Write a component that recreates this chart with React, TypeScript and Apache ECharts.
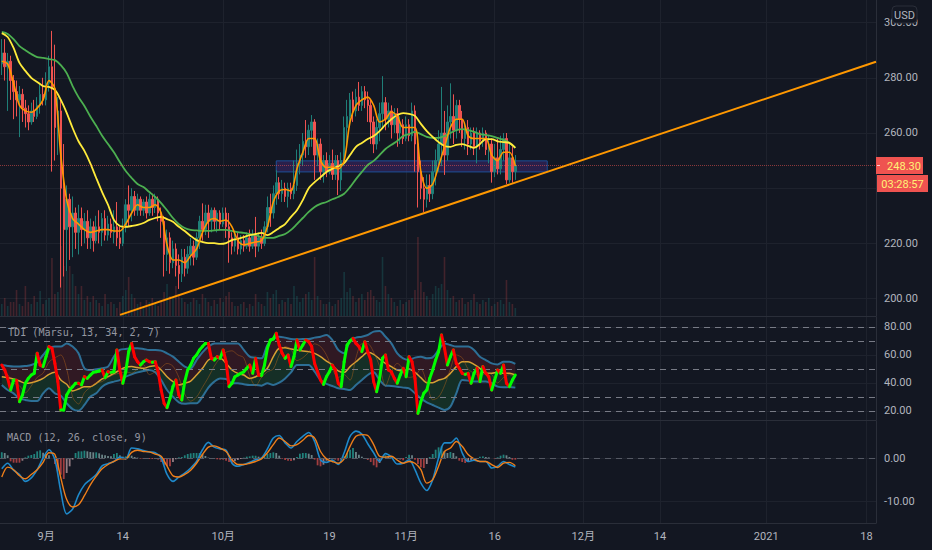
import React, { useEffect, useRef } from "react";
import * as echarts from "echarts";

// ---- x axis: days counted from 1 September 2020 ----
const xTickDays = [0, 13, 30, 48, 61, 76, 91, 104, 122, 139];
const xTickLabels = ["9月", "14", "10月", "19", "11月", "16", "12月", "14", "2021", "18"];
const priceTicks = [200, 220, 240, 260, 280, 300];
const tdiTicks = [20, 40, 60, 80];
const tdiDashes = [80, 70, 50, 30, 20];
const macdTicks = [-10, 0];

// ---- candles: open, close, low, high, one row per half day ----
const candles = [
  [285,289,281,294],[289,284,279,294],[284,286,268,289],[286,279,272,288],[279,275,265,281],[275,272,266,279],[272,274,258.5,277],[274,269,264,276],[269,267,262,272],[267,264,261,270],
  [264,268,263,271],[268,266,264,272],[266,270,265,273],[270,274,267,278],[274,272,270,280],[272,278,270,282],[278,284,275,288],[284,276,246,297],[276,262,250,292],[262,268,252,273],
  [268,240,204,272],[240,225,208,256],[225,236,210,241],[236,226,214,238],[226,231,215,237],[231,224,218,233],[224,229,216,234],[229,225,219,233],[225,228,220,231],[228,222,218,232],
  [222,226,218,229],[226,221,217,228],[221,226,220,230],[226,224,220,232],[224,229,219,231],[229,223,221,232],[223,227,221,230],[227,224,222,229],[224,226,220,232],[226,222,219,235],
  [222,220,218,226],[220,226,219,229],[226,234,224,236],[234,232,226,241],[232,237,228,240],[237,232,230,239],[232,236,230,238],[236,232,230,237],[232,235,230,236],[235,231,229,237],
  [231,236,230,238],[236,233,230,238],[233,236,231,238],[236,231,228,237],[231,228,222,233],[228,216,208,230],[216,222,210,225],[222,213,209,224],[213,218,211,221],[218,212,208,220],
  [212,209,203.5,216],[209,215,206,218],[215,211,208,218],[211,216,209,219],[216,219,212,222],[219,215,212,221],[215,222,214,224],[222,228,218,230],[228,225,221,234.5],[225,231,223,234],
  [231,228,222,234],[228,232,224,233],[232,228,225,233],[228,231,224,232],[231,227,225,232],[227,231,226,233],[231,226,222,233],[226,222,213,231],[222,219,216,224],[219,222,217,224],
  [222,218,216,224],[218,221,216,223],[221,219,217,223],[219,222,218,224],[222,219,217,225],[219,223,218,225],[223,219,215,229.6],[219,222,217,224],[222,220,218,225],[220,226,219,228],
  [226,233,224,237],[233,231,226,238],[231,238,229,241],[238,242,234,246.5],[242,238,236,244],[238,240,235,243],[240,237,235,242],[237,240,233,242],[240,238,236,242],[238,241,236,250],
  [241,249,239,254],[249,252,245,256],[252,257,248,260],[257,255,251,264.7],[255,261,252,263],[261,264,255,266.5],[264,252,243,265],[252,256,248,258],[256,246,243,258],[246,250,242,252],
  [250,246,244,253],[246,249,245,252],[249,245,243,254],[245,250,243,252],[250,243,237.5,252],[243,250,239,253],[250,262,248,266],[262,266,256,272],[266,272,262,274.5],[272,268,264,275],
  [268,273,266,276],[273,270,268,278.5],[270,275,268,277],[275,272,269,277],[272,270,264,275],[270,264,256,272],[264,256,252.7,266],[256,262,254,265],[262,267,257,271],[267,271,262,280.6],
  [271,265,261,273],[265,268,262,271],[268,263,258,270],[263,267,260,269],[267,260,255,269],[260,263,256,266],[263,258,256,265],[258,263,257,266],[263,259,257,265],[259,268,257,271],
  [268,256,246,270],[256,246,233,260],[246,240,236,250],[240,236,231.4,244],[236,241,233,245],[241,238,235,245],[238,246,236,250],[246,250,241,254],[250,256,246,261],[256,260,248,276.7],
  [260,252,244.8,268],[252,264,250,270],[264,266,258,278],[266,261,256,274],[261,270,258,272],[270,265,260,272],[265,258,255,268],[258,262,254,264],[262,256,252,264.7],[256,260,254,262],
  [260,255,252,262],[255,260,249,262],[260,257,254,261],[257,260,255,262],[260,254,252,261],[254,256,249,259],[256,246,242,258],[246,251,244,256],[251,247,245,258],[247,254,245,259],
  [254,258,250,260],[258,243,241.5,260],[243,251,242,256],[251,246,242,256],[246,248.3,243,252],
];

const volumes = [
  12,18,10,14,14,26,12,10,30,14, 12,20,14,25,12,16,18,58,22,24,
  70,50,45,50,42,30,22,30,16,20, 14,20,16,13,10,22,12,14,12,8,
  14,20,26,39,22,18,12,14,10,16, 14,18,12,10,16,24,32,20,18,30,
  22,18,14,12,14,18,16,12,22,18, 14,10,16,12,18,14,20,24,14,10,
  10,12,14,8,12,10,22,14,12,10, 24,18,22,26,12,16,14,18,12,30,
  20,14,18,22,24,16,59,20,16,12, 12,14,10,12,16,18,44,24,28,20,
  14,18,22,16,24,26,20,16,14,59, 30,22,18,14,10,16,12,14,16,18,
  26,79,34,24,20,16,22,30,28,32, 59,26,18,20,14,16,18,12,14,16,
  22,14,12,16,14,18,10,12,14,16, 12,36,14,12,8,
];

// ---- moving averages, one value per day ----
const fastMa = [
  286,285,278,270,268,267.5,269,272,279,276, 252,235.7,229,227,225,224,224.5,225,225,224.5,
  224.5,227,231,234,233,233,234,231,219.4,214, 214,213,215.5,218,224,228,229,228,228.5,226,
  221,219.5,220,220.5,221,226,235,239,239.5,239, 247,253,258,258,250,247.5,247.7,247,250,264,
  270,272,273,270,264,265,267.6,266,262,262, 262,246,240,241.5,248,255,262,265,265,259,
  258,258,258,252,250,253,253,248,
];
const midMa = [
  296.2,294.8,290.8,285.4,282.5,280,278.5,277,276.7,275.6, 272,267.3,261.8,257,253.5,249,243.7,238.6,234,228.5,
  226.3,226,226.3,226.7,227.4,228.5,229.2,229.6,228.8,227.8, 226,224.5,222.7,221.2,220.5,220.1,220.1,219.8,220.1,221.2,
  221.6,222.3,223,223.4,223.8,223,224.1,225.6,227,229.6, 232,235.7,240,242.2,244,245.9,247,248,249.1,252,
  255,256.4,257.8,258.9,260.7,263,265,266.5,267.2,266.9, 266.2,263.3,260.7,258.6,256.7,255.3,255,255.7,256,255.3,
  254.6,256,257.8,257.8,257,256.7,256.4,254.6,
];
const slowMa = [
  296.6,295.9,294,291.5,290,288.6,287.5,287.2,286.8,286.4, 284.6,281.7,277,273,269.8,266,262.6,259,256,253,
  249.5,246.2,243.7,241.5,240.4,238.6,236.8,234.6,232,229.2, 227,225.6,224.9,224.7,224.5,224.5,224.7,224.9,224.9,224.5,
  224.1,223.8,223.4,223,222.3,222,222,222.7,223.4,224.9, 227,229.2,231.4,233.2,234.3,235,236,236.8,238,240.4,
  243.3,245.9,248.4,249.9,252,254.2,255.7,257.1,258.9,259.6, 260.4,259.6,258.6,258.2,258.2,258.9,260,261,261.4,261,
  260.4,259.6,259.3,258.9,258.2,257.5,256.4,254.6,
];
const trendDays = [12.54, 140.6];
const trendPrices = [194.1, 285.8];
const zoneDays = [39, 84.9];
const zonePrices = [249.9, 245.9];
const lastPrice = 248.3;

// ---- TDI ----
const rsiFast = [
  52.8,49.3,43.3,35,42,42,26.7,31.4,39.8,43.3, 45.7,46.9,61.2,52.8,51.7,58.8,66,64.8,54,41,
  20.7,20.7,31.4,35,37.4,39.8,39.8,38.6,44.5,43.3, 45.7,47.6,48,48.6,49.3,43.8,48,47.6,48,63.6,
  49.3,39.8,48,62.4,68.3,58.8,55.2,52.8,55.2,56.4, 55.2,54.8,55.2,48,35,25.5,22.4,29,37.4,42.1,
  31.4,27.9,41,49.3,52.8,57.6,60,63.6,66,68.3, 68.3,57.6,56.4,58.8,57.6,63.6,55.2,37.4,39.8,44.5,
  45.7,46.9,48,50.5,52.8,46.9,57.6,45.7,45.2,52.8, 64.8,70.7,71.4,75.5,67.1,61.2,57.6,60,51.7,58.8,
  70.7,63.6,67.1,70.7,69.5,66,54,48,42.1,39, 44.5,48,52.8,49.3,39.8,37.4,55.2,67.1,70,71.9,
  68.3,66,62.4,69.5,62.4,56.4,41,33.8,43.3,57.6, 60,49.3,48,43.3,39.8,45.7,50.5,44.5,58.8,55.2,
  43.3,18.3,26.7,32.6,35,43.3,49.3,56.4,62.4,74.3, 64.8,52.8,58.8,63.6,54,50.5,46.9,46.2,46.9,39.8,
  46.9,50.5,41,51.7,46.9,44.5,35,42.1,49.3,46.9, 52.8,39.8,37.4,42.1,45.7,
];
const rsiSlow = [
  50,46,40,38,33,38,44,47,55,58, 60,50,30,25,33,37,40,41,44,46, 47,48,47,50,53,46,48,51,54,52,
  44,32,27,30,37,44,52,58,62,63, 60,58,45,38,44,48, 50,60,66,64,56,58,62,68,66,60,
  50,44,46,42,58,68,68,62,52,38, 48,54,50,44,45,50,40,28,30,38, 50,60,58,50,47,45,47,46,40,44,46,44,
];
const tdiUpper = [
  52.8,52.1,51.7,51.7,52.1,52.8,54.8,60,64.8,66, 66,68.3,66,61.2,50.5,49.3,49.8,50.5,51.7,58.8,
  63.6,64.3,64.8,64.8,64.3,63.6,63.6,63.1,61.2,58.8, 55.2,51.7,50.5,56.4,61.9,66,68.3,68.3,68.3,68.3,
  68.3,63.6,58.8,58.1,57.6,67.1,71.4,73.1,72.4,71.4, 71.2,71.4,71.4,72.4,73.1,74.3,70.7,63.6,61.2,70.7,
  72.4,73.1,74.3,76.7,77.1,73.1,68.3,61.2,57.6,56.4, 58.1,58.8,57.6,58.3,63.6,68.3,67.1,66,66,66,
  63.6,58.8,56.4,54,53.3,55.2,55.2,53.6,
];
const tdiLower = [
  38.6,35,32.6,29,27.9,27.1,27.1,32.6,36.2,32.6, 30.9,25.5,21.4,20.2,24.3,30.2,32.6,37.4,39.8,41,
  42.1,44.5,46.2,47.6,48.6,49.3,47.6,42.1,35,30.2, 26.2,25.2,25.5,25.5,30.2,36.7,41,43.3,42.9,39.8,
  39.8,39.1,38.6,38.6,38.1,39.8,38.6,40.2,43.3,47.6, 52.8,52.8,52.8,48.1,42.1,39.3,37.9,36.2,35.7,35,
  38.6,42.1,45.7,47.6,42.1,38.1,37.9,37.4,36.7,36.2, 32.6,29,26.2,24.3,22.4,20.7,23.1,32.6,42.1,41.7,
  41,41,41,39.8,37.4,36.9,37.1,36.7,
];
const tdiSignal = [
  44.5,43.8,42.9,41.4,39.8,40.2,41.4,43.3,46.2,47.6, 42.1,39.1,34.3,35.7,37.4,37.4,39.8,42.9,44.5,46.9,
  49.3,51.2,51.7,51,50.5,51.7,52.4,49.3,44.5,41, 38.6,39.8,41.4,45.7,50.5,56.4,57.6,57.6,54,49.3,
  46.9,45.7,43.3,44.5,46.9,50.5,58.8,64.8,65.2,64.3, 63.6,62.9,62.4,61.2,58.8,55.7,52.8,48.6,47.6,51.7,
  55.2,58.8,61.9,60.5,57.1,54,51.7,49.3,48.6,50, 47.6,43.8,40.2,40.2,42.1,43.3,46.9,51.7,55.2,55.2,
  53.3,50.5,46.9,46.9,47.6,46.9,46.9,45.7,
];

// ---- MACD ----
const macdLine = [
  -2.5,-1.2,-2.8,-3.8,-5.4,-4.6,-2.7,0,1.9,-0.4, -7.7,-12.9,-11.8,-8.5,-6.2,-5,-3.8,-1.8,-1.3,-0.8,
  0.2,-0.2,2.3,2.1,1.7,1.4,1.2,0,-3.8,-5.4, -4.4,-3.5,-2.3,-0.8,1.9,3.6,2.5,2.1,1.8,-1.2,
  -1.9,-1.5,-1,-0.4,0,2.1,4.6,5.2,3.5,2.3, 3.8,5,5.9,3.8,-0.4,-1,-0.5,-1.5,1.2,5,
  6.2,5.5,3.3,1.2,-0.8,1,0.2,-1.4,-1.2,-0.4, -2.7,-5.8,-7.5,-5,0,3.5,3.5,4.6,1.2,-0.8,
  -0.5,-0.8,-0.8,-2.3,-1.9,-0.8,-1.5,-2.1,
];
const macdSignal = [
  -4.4,-2.1,-2.7,-4.1,-4.8,-3.8,-2.7,-1,1.2,0.8, -4.6,-9.6,-11.3,-10.8,-8.7,-6.2,-4.2,-2.5,-1.5,-0.8,
  -0.2,-0.2,1.3,1.8,1.5,1.4,0.9,0.4,-1.9,-4.1, -4.4,-3.8,-2.8,-1.2,0.8,2.5,2.8,2.3,1.5,-0.4,
  -1.5,-1.5,-1.2,-0.8,-0.2,1.2,3.1,4.6,3.8,2.8, 3.1,4.1,5.2,4.6,1.5,-0.2,-0.8,-1.2,-0.2,2.7,
  5,5.4,5.2,3.1,0.4,0.2,0.4,-0.5,-1.2,-0.8, -1.2,-2.7,-5.8,-5,-1.9,1.5,2.3,3.8,2.7,0.8,
  -0.2,-0.8,-0.8,-1.5,-2.2,-1.2,-1,-1.8,
];
const macdHist = [
  1.31,1.15,0.62,-0.77,-1.08,-1.08,-1.08,-0.62,0.15,0.54, 0.69,0.92,1.54,1.77,1.23,0.92,0.62,0,-1.38,-2.92,
  -3.85,-4.85,-3.46,-1.92,-0.38,1.15,1.54,1.54,1.69,1.54, 1.38,1.31,1.31,1.08,0.77,0.62,0.46,0.38,0.92,1.15,
  0.62,0.31,0.38,0.62,0.54,0.23,0.08,-0.15,-0.23,-0.23, -0.23,-0.23,-0.15,-0.38,-0.92,-1.54,-1.85,-1.92,-0.92,-0.31,
  0.15,0.23,0.62,0.92,1.08,1.15,1.15,1.15,0.92,0.46, 0.08,-0.15,-0.23,-0.31,-0.38,-0.38,-0.62,-0.92,-1.15,-0.77,
  -0.46,-0.23,0.08,0.31,0.38,0.54,0.54,0.31,0.08,0.31, 0.92,1.15,1.31,1.15,0.54,-0.15,-0.46,-0.62,-0.69,-0.54,
  0.23,1,1.15,1.15,1,0.69,-0.38,-1.69,-1.92,-1.54, -0.62,-0.23,-0.23,-0.38,-0.62,-0.38,0.38,1.15,1.92,2.31,
  1.38,0.77,0.31,-0.15,-0.46,-0.92,-1.69,-2.15,-1.15,0.15, 0.62,0.46,0.31,0,-0.23,-0.38,-0.54,0.23,0.77,0.62,
  -0.38,-1.38,-2.15,-2.31,-1.38,0.23,0.92,1.92,2.46,2.69, 1.54,1.15,1.38,1.15,0.38,-0.62,-0.92,-1.15,-0.77,-0.46,
  -0.38,0,0.31,0.38,0.23,0.15,0,-0.15,0.15,0.54, 0.77,0.62,0.23,-0.38,-0.38,
];

const BG = "#131722";
const GRID = "#1e222d";
const AXIS = "#2a2e39";
const TEXT = "#b2b5be";
const FONT = "'DejaVu Sans Mono', 'Noto Sans CJK JP', monospace";
const UI = "Roboto, 'Noto Sans CJK JP', sans-serif";
const X_MIN = -7.8;
const X_MAX = 140.6;

const halfDay = (i: number) => -7.5 + i * 0.5;
const wholeDay = (k: number) => -7.5 + k;
const dayLine = (values: number[]) => values.map((v, k) => [wholeDay(k), v]);

function App() {
  const ref = useRef<HTMLDivElement>(null);
  useEffect(() => {
    const chart = echarts.init(ref.current!, null, { renderer: "svg" });

    const xAxis = (gridIndex: number, labels: boolean) => ({
      type: "value",
      gridIndex,
      min: X_MIN,
      max: X_MAX,
      axisLine: { show: true, onZero: false, lineStyle: { color: AXIS } },
      axisTick: { show: false, customValues: xTickDays },
      splitLine: { show: true, lineStyle: { color: GRID } },
      axisLabel: labels
        ? {
            show: true,
            customValues: xTickDays,
            color: TEXT,
            fontFamily: UI,
            fontSize: 11,
            margin: 8,
            formatter: (v: number) => xTickLabels[xTickDays.indexOf(v)] ?? "",
          }
        : { show: false, customValues: xTickDays },
    });
    const yAxis = (gridIndex: number, min: number, max: number, ticks: number[]) => ({
      type: "value",
      gridIndex,
      min,
      max,
      position: "right",
      axisLine: { show: true, onZero: false, lineStyle: { color: AXIS } },
      axisTick: { show: false, customValues: ticks },
      splitLine: { show: true, lineStyle: { color: GRID } },
      axisLabel: {
        show: true,
        customValues: ticks,
        color: TEXT,
        fontFamily: UI,
        fontSize: 11,
        margin: 8,
        formatter: (v: number) => v.toFixed(2),
      },
    });
    const line = (name: string, values: number[], color: string, width: number, xi: number, yi: number, z: number, opacity = 1) => ({
      name,
      type: "line",
      xAxisIndex: xi,
      yAxisIndex: yi,
      data: dayLine(values),
      symbol: "none",
      smooth: 0.3,
      z,
      lineStyle: { color, width, opacity },
      silent: true,
    });
    // Filled band between two TDI curves, drawn through the pane's own axes.
    const band = (name: string, top: number[], bottom: number[], fill: string) => ({
      name,
      type: "custom",
      xAxisIndex: 1,
      yAxisIndex: 2,
      z: 1,
      silent: true,
      encode: { x: 0, y: 1 },
      data: [[wholeDay(0), top[0]]],
      renderItem: (_: unknown, api: any) => {
        const upper = top.map((v, k) => api.coord([wholeDay(k), v]));
        const lower = bottom.map((v, k) => api.coord([wholeDay(k), v])).reverse();
        return { type: "polygon", shape: { points: [...upper, ...lower] }, style: { fill } };
      },
    });

    const rsiSegments = rsiFast.slice(1).map((v, i) => [halfDay(i), rsiFast[i], halfDay(i + 1), v]);

    const label = (text: string, x: number, y: number, fill: string, font: string, size: number, align = "left") => ({
      type: "text",
      z: 101,
      x,
      y,
      style: { text, fill, font: `${size}px ${font}`, textAlign: align, textVerticalAlign: "middle" },
      silent: true,
    });

    chart.setOption({
      animation: false,
      backgroundColor: BG,
      grid: [
        { left: 0, top: 0, width: 876, height: 316 },
        { left: 0, top: 317, width: 876, height: 103 },
        { left: 0, top: 421, width: 876, height: 102 },
      ],
      xAxis: [xAxis(0, false), xAxis(1, false), xAxis(2, true)],
      yAxis: [
        yAxis(0, 193.69, 308.19, priceTicks),
        { type: "value", gridIndex: 0, min: 0, max: 316, show: false },
        yAxis(1, 13.57, 87.14, tdiTicks),
        yAxis(2, -15, 8.54, macdTicks),
      ],
      series: [
        {
          name: "Volume",
          type: "bar",
          xAxisIndex: 0,
          yAxisIndex: 1,
          barWidth: 1.6,
          z: 1,
          silent: true,
          data: volumes.map((v, i) => ({
            value: [halfDay(i), v],
            itemStyle: {
              color: candles[i][1] >= candles[i][0] ? "rgba(38,166,154,0.22)" : "rgba(239,83,80,0.22)",
            },
          })),
        },
        {
          name: "Price",
          type: "candlestick",
          xAxisIndex: 0,
          yAxisIndex: 0,
          barWidth: 2,
          z: 2,
          silent: true,
          encode: { x: 0, y: [1, 2, 3, 4] },
          data: candles.map((c, i) => [halfDay(i), c[0], c[1], c[2], c[3]]),
          itemStyle: { color: "#1f7f78", color0: "#ef5350", borderColor: "#1f7f78", borderColor0: "#ef5350", borderWidth: 1 },
          markLine: {
            silent: true,
            symbol: "none",
            label: { show: false },
            data: [{ yAxis: lastPrice }],
            lineStyle: { type: "dotted", color: "#ef5350", opacity: 0.55, width: 1 },
          },
          markArea: {
            silent: true,
            label: { show: false },
            itemStyle: { color: "rgba(103,58,183,0.28)", borderColor: "#1c4f96", borderWidth: 1 },
            data: [[{ coord: [zoneDays[0], zonePrices[0]] }, { coord: [zoneDays[1], zonePrices[1]] }]],
          },
        },
        line("MA slow", slowMa, "#4caf50", 1.8, 0, 0, 3),
        line("MA mid", midMa, "#ffeb3b", 1.8, 0, 0, 4),
        line("MA fast", fastMa, "#ff9800", 1.6, 0, 0, 5),
        {
          name: "Trend",
          type: "line",
          xAxisIndex: 0,
          yAxisIndex: 0,
          symbol: "none",
          z: 6,
          silent: true,
          lineStyle: { color: "#ff9800", width: 2 },
          data: trendDays.map((d, i) => [d, trendPrices[i]]),
        },
        // TDI pane
        band("Lower fill", tdiSignal, tdiLower, "#152f26"),
        band("Upper fill", tdiUpper, tdiSignal, "#301923"),
        {
          ...line("TDI upper", tdiUpper, "#2d6f96", 2, 1, 2, 2),
          markLine: {
            silent: true,
            symbol: "none",
            label: { show: false },
            data: tdiDashes.map((v) => ({ yAxis: v })),
            lineStyle: { type: [6, 5], color: "#787b86", width: 1 },
          },
        },
        line("TDI lower", tdiLower, "#2d6f96", 2, 1, 2, 2),
        line("TDI signal", tdiSignal, "#d8a034", 1.5, 1, 2, 3),
        line("TDI slow", rsiSlow, "#b5651d", 1, 1, 2, 3, 0.45),
        {
          name: "TDI fast",
          type: "custom",
          xAxisIndex: 1,
          yAxisIndex: 2,
          z: 5,
          silent: true,
          encode: { x: [0, 2], y: [1, 3] },
          data: rsiSegments,
          renderItem: (_: unknown, api: any) => {
            const a = api.coord([api.value(0), api.value(1)]);
            const b = api.coord([api.value(2), api.value(3)]);
            return {
              type: "line",
              shape: { x1: a[0], y1: a[1], x2: b[0], y2: b[1] },
              style: {
                stroke: api.value(3) >= api.value(1) ? "#00ff00" : "#ff0000",
                lineWidth: 3,
                lineCap: "round",
              },
            };
          },
        },
        // MACD pane
        {
          name: "Histogram",
          type: "bar",
          xAxisIndex: 2,
          yAxisIndex: 3,
          barWidth: 1.8,
          z: 1,
          silent: true,
          data: macdHist.map((v, i) => {
            const prev = i ? macdHist[i - 1] : 0;
            const color =
              v >= 0
                ? v >= prev
                  ? "rgba(38,166,154,0.75)"
                  : "rgba(178,223,219,0.55)"
                : v <= prev
                ? "rgba(239,83,80,0.65)"
                : "rgba(255,205,210,0.55)";
            return { value: [halfDay(i), v], itemStyle: { color } };
          }),
          markLine: {
            silent: true,
            symbol: "none",
            label: { show: false },
            data: [{ yAxis: 0 }],
            lineStyle: { type: [6, 5], color: "#555964", width: 1 },
          },
        },
        line("MACD", macdLine, "#1e88c9", 1.6, 2, 3, 3),
        line("MACD signal", macdSignal, "#ef7f1a", 1.4, 2, 3, 4),
      ],
      graphic: [
        label("TDI (Marsu, 13, 34, 2, 7)", 8, 332, "#9598a1", FONT, 10.1),
        label("MACD (12, 26, close, 9)", 7, 437, "#9598a1", FONT, 10.1),
        {
          type: "rect",
          z: 100,
          silent: true,
          shape: { x: 892, y: 6, width: 25, height: 17, r: 4 },
          style: { fill: BG, stroke: AXIS, lineWidth: 1 },
        },
        label("USD", 904.5, 15, TEXT, UI, 11, "center"),
        {
          type: "rect",
          z: 100,
          silent: true,
          shape: { x: 876, y: 157, width: 47, height: 17 },
          style: { fill: "#ef5350" },
        },
        { type: "rect", z: 101, silent: true, shape: { x: 877, y: 165, width: 3, height: 1 }, style: { fill: "#ffcdd2" } },
        label("248.30", 904, 166, "#fff176", UI, 11, "center"),
        {
          type: "rect",
          z: 100,
          silent: true,
          shape: { x: 877, y: 175, width: 51, height: 17 },
          style: { fill: "#ef5350" },
        },
        label("03:28:57", 902.5, 184, "#fff176", UI, 11, "center"),
      ],
    });
    return () => chart.dispose();
  }, []);
  return <div ref={ref} style={{ position: "fixed", left: 0, top: 0, width: 932, height: 550 }} />;
}

export default App;
